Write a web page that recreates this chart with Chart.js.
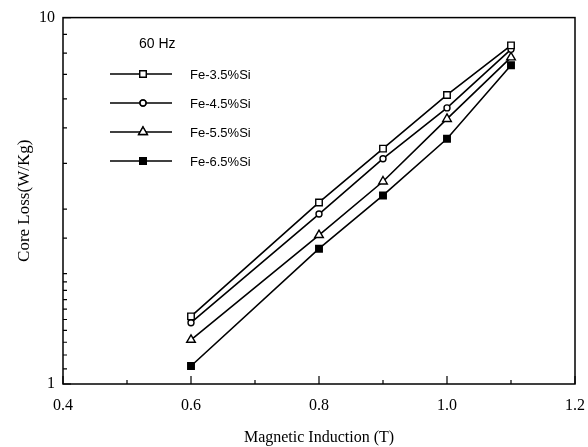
<!DOCTYPE html>
<html>
<head>
<meta charset="utf-8">
<script src="https://cdn.jsdelivr.net/npm/chart.js@4.4.0/dist/chart.umd.min.js"></script>
<style>
  html, body { margin: 0; padding: 0; background: #fff; }
  #wrap { width: 588px; height: 447px; }
</style>
</head>
<body>
<div id="wrap"><canvas id="grafico" width="588" height="447"></canvas></div>
<script>
// valores
const induccion = [0.6, 0.8, 0.9, 1.0, 1.1];
const fe35 = [1.53, 3.13, 4.39, 6.15, 8.40];
const fe45 = [1.47, 2.91, 4.12, 5.67, 8.19];
const fe55 = [1.32, 2.55, 3.57, 5.29, 7.79];
const fe65 = [1.12, 2.34, 3.27, 4.67, 7.41];
const etiquetas = ['Fe-3.5%Si', 'Fe-4.5%Si', 'Fe-5.5%Si', 'Fe-6.5%Si'];
const ticksX = [0.4, 0.6, 0.8, 1.0, 1.2];
const ticksXMenores = [0.5, 0.7, 0.9, 1.1];
const ticksY = [1, 10];

const puntos = serie => induccion.map((x, i) => ({ x, y: serie[i] }));

const estilos = [
  { pointStyle: 'rect', pointRadius: 4.6, pointBackgroundColor: '#fff' },
  { pointStyle: 'circle', pointRadius: 3, pointBackgroundColor: '#fff' },
  { pointStyle: 'triangle', pointRadius: 5, pointBackgroundColor: '#fff' },
  { pointStyle: 'rect', pointRadius: 4.6, pointBackgroundColor: '#000' },
];

const series = [fe35, fe45, fe55, fe65];

const datasets = series.map((s, i) => ({
  label: etiquetas[i],
  data: puntos(s),
  borderColor: '#000',
  borderWidth: 1.6,
  pointBorderColor: '#000',
  pointBorderWidth: 1.4,
  pointStyle: estilos[i].pointStyle,
  pointRadius: estilos[i].pointRadius,
  pointBackgroundColor: estilos[i].pointBackgroundColor,
  tension: 0,
}));

// marco, ticks hacia adentro y leyenda dentro del grafico
const marcoPlugin = {
  id: 'marco',
  afterDatasetsDraw(chart) {
    const { ctx, chartArea: a, scales } = chart;
    ctx.save();
    ctx.strokeStyle = '#000';
    ctx.lineWidth = 1.5;
    ctx.strokeRect(a.left, a.top, a.right - a.left, a.bottom - a.top);

    ctx.lineWidth = 1.2;
    ctx.beginPath();
    ticksX.forEach(v => {
      const px = scales.x.getPixelForValue(v);
      ctx.moveTo(px, a.bottom);
      ctx.lineTo(px, a.bottom - 8);
    });
    ticksXMenores.forEach(v => {
      const px = scales.x.getPixelForValue(v);
      ctx.moveTo(px, a.bottom);
      ctx.lineTo(px, a.bottom - 4);
    });
    scales.y.ticks.forEach(t => {
      const py = scales.y.getPixelForValue(t.value);
      const largo = ticksY.includes(t.value) ? 8 : 4;
      ctx.moveTo(a.left, py);
      ctx.lineTo(a.left + largo, py);
    });
    ctx.stroke();

    // leyenda
    ctx.fillStyle = '#000';
    ctx.font = '14px "Liberation Sans", Arial, sans-serif';
    ctx.textBaseline = 'middle';
    ctx.fillText('60 Hz', 139, 44);
    ctx.font = '13px "Liberation Sans", Arial, sans-serif';
    chart.data.datasets.forEach((ds, i) => {
      const y = 74 + i * 29;
      ctx.beginPath();
      ctx.lineWidth = 1.4;
      ctx.moveTo(110, y);
      ctx.lineTo(172, y);
      ctx.stroke();
      Chart.helpers.drawPoint(ctx, {
        pointStyle: ds.pointStyle,
        radius: ds.pointRadius,
        borderWidth: 1.4,
      }, 143, y);
      ctx.fillStyle = ds.pointBackgroundColor;
      ctx.strokeStyle = '#000';
      ctx.fill();
      ctx.stroke();
      ctx.fillStyle = '#000';
      ctx.fillText(ds.label, 190, y + 1);
    });
    ctx.restore();
  }
};

const ctx = document.getElementById('grafico').getContext('2d');

const myChart = new Chart(ctx, {
  type: 'line',
  data: { datasets },
  options: {
    responsive: false,
    animation: false,
    devicePixelRatio: 1,
    layout: { padding: { top: 15, right: 13, left: 0, bottom: 0 } },
    plugins: {
      legend: { display: false },
      tooltip: { enabled: false },
    },
    scales: {
      x: {
        type: 'linear',
        min: 0.4,
        max: 1.2,
        afterBuildTicks: scale => {
          scale.ticks = ticksX.map(v => ({ value: v }));
        },
        afterFit: scale => {
          scale.height = 63;
          scale.paddingLeft = 0;
          scale.paddingRight = 0;
        },
        grid: { display: false, drawTicks: false },
        border: { display: false },
        ticks: {
          padding: 12,
          color: '#000',
          font: { family: '"Liberation Serif", "Times New Roman", serif', size: 16 },
          callback: v => Number(v).toFixed(1),
        },
        title: {
          display: true,
          text: 'Magnetic Induction (T)',
          color: '#000',
          font: { family: '"Liberation Serif", "Times New Roman", serif', size: 16 },
          padding: { top: 2, bottom: 0 },
        },
      },
      y: {
        type: 'logarithmic',
        min: 1,
        max: 10,
        afterFit: scale => { scale.width = 63; },
        grid: { display: false, drawTicks: false },
        border: { display: false },
        ticks: {
          padding: 8,
          color: '#000',
          autoSkip: false,
          font: { family: '"Liberation Serif", "Times New Roman", serif', size: 16 },
          callback: v => (ticksY.includes(v) ? String(v) : ''),
        },
        title: {
          display: true,
          text: 'Core Loss(W/Kg)',
          color: '#000',
          font: { family: '"Liberation Serif", "Times New Roman", serif', size: 17 },
          padding: { top: 14, bottom: 0 },
        },
      },
    },
  },
  plugins: [marcoPlugin],
});
</script>
</body>
</html>
